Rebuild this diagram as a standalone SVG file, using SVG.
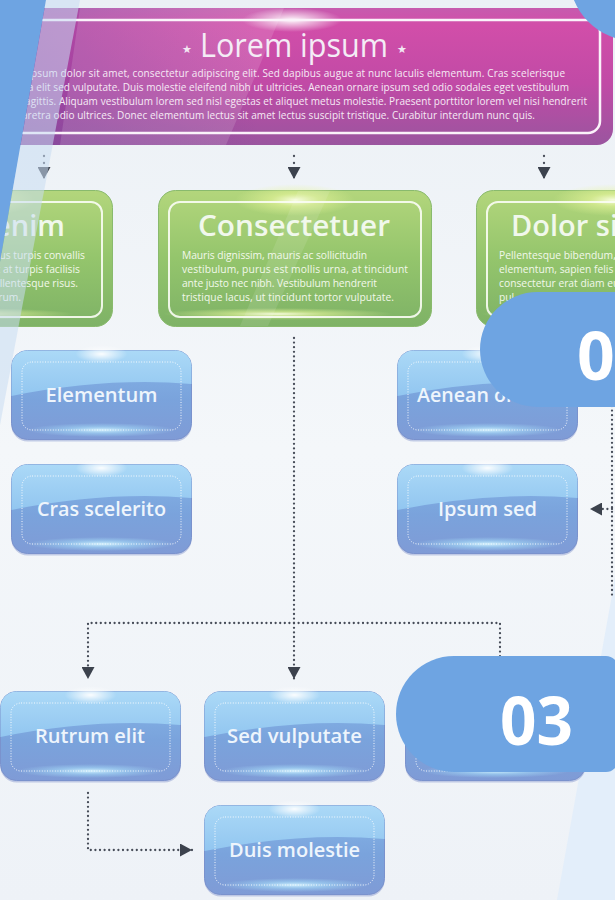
<svg xmlns="http://www.w3.org/2000/svg" width="615" height="900" viewBox="0 0 615 900">
<defs>
<style>
.t{font-family:"Open Sans","Noto Sans","DejaVu Sans",sans-serif}
.body{font-size:10px;fill:#f6eaf5}
.gbody{font-size:10.3px;fill:#f2f8ea}
.gtitle{font-size:29px;font-weight:600;fill:#f1f8ec}
.blabel{font-size:19.5px;font-weight:600;fill:#eef5fc;text-anchor:middle}
.dots{fill:none;stroke:#474d59;stroke-width:2.3;stroke-linecap:round;stroke-dasharray:0 4.6}
.short{stroke-dasharray:0 7}
.tab{fill:#6ea4e2}
.tabnum{font-size:66px;font-weight:700;fill:#ffffff}
</style>
<linearGradient id="bg" x1="0" y1="0" x2="0" y2="1">
<stop offset="0" stop-color="#ebf0f5"/>
<stop offset="0.5" stop-color="#f4f7fa"/>
<stop offset="1" stop-color="#eef2f7"/>
</linearGradient>
<linearGradient id="pink" x1="0" y1="0" x2="0" y2="1">
<stop offset="0" stop-color="#c65bae"/>
<stop offset="0.12" stop-color="#d24ea9"/>
<stop offset="0.55" stop-color="#c14aa6"/>
<stop offset="1" stop-color="#9a559f"/>
</linearGradient>
<linearGradient id="pinkSide" x1="0" y1="0" x2="1" y2="0">
<stop offset="0" stop-color="#70389a" stop-opacity="0.55"/>
<stop offset="0.45" stop-color="#70389a" stop-opacity="0"/>
</linearGradient>
<linearGradient id="green" x1="0" y1="0" x2="0" y2="1">
<stop offset="0" stop-color="#b3d67c"/>
<stop offset="0.5" stop-color="#94c56c"/>
<stop offset="1" stop-color="#7eb266"/>
</linearGradient>
<linearGradient id="blueLow" x1="0" y1="0" x2="0" y2="1">
<stop offset="0" stop-color="#86b6e8"/>
<stop offset="0.55" stop-color="#7aa3dc"/>
<stop offset="1" stop-color="#7f9bd6"/>
</linearGradient>
<linearGradient id="blueTop" x1="0" y1="0" x2="0" y2="1">
<stop offset="0" stop-color="#abd9f7"/>
<stop offset="1" stop-color="#92c6f0"/>
</linearGradient>
<radialGradient id="whiteGlow">
<stop offset="0" stop-color="#ffffff" stop-opacity="0.95"/>
<stop offset="1" stop-color="#ffffff" stop-opacity="0"/>
</radialGradient>
<radialGradient id="cyanGlow">
<stop offset="0" stop-color="#d6f4ff" stop-opacity="0.95"/>
<stop offset="0.5" stop-color="#a9e1fb" stop-opacity="0.5"/>
<stop offset="1" stop-color="#a9e1fb" stop-opacity="0"/>
</radialGradient>
<radialGradient id="yelGlow">
<stop offset="0" stop-color="#fbffe6" stop-opacity="0.95"/>
<stop offset="0.4" stop-color="#e6f59a" stop-opacity="0.6"/>
<stop offset="1" stop-color="#e6f59a" stop-opacity="0"/>
</radialGradient>
<marker id="ah" viewBox="0 0 12 13" refX="12" refY="6.5" markerWidth="12" markerHeight="13" markerUnits="userSpaceOnUse" orient="auto">
<path d="M0 0 L12 6.5 L0 13 Z" fill="#3c424d"/>
</marker>
<!-- rounded green card, 274 x 137 -->
<g id="gshape">
<rect x="0.5" y="0.5" width="273" height="136" rx="17" fill="url(#green)" stroke="#89ba6d"/>
<ellipse cx="137" cy="10" rx="60" ry="16" fill="url(#yelGlow)"/>
<ellipse cx="120" cy="124" rx="115" ry="6" fill="url(#yelGlow)"/>
<rect x="11" y="12" width="252" height="115" rx="11" fill="none" stroke="#fbfdf5" stroke-width="2" stroke-opacity="0.9"/>
</g>
<!-- glossy blue button, 181 x 90 -->
<g id="bshape">
<rect x="0.5" y="2.5" width="180" height="89" rx="16" fill="#8294cc" opacity="0.45"/>
<rect x="0.5" y="0.5" width="180" height="89" rx="16" fill="url(#blueLow)" stroke="#7a92cd"/>
<path d="M0.5 46 V16.5 A16 16 0 0 1 16.5 0.5 H164.5 A16 16 0 0 1 180.5 16.5 V34 Q95 27 0.5 46 Z" fill="url(#blueTop)"/>
<ellipse cx="90.5" cy="80" rx="74" ry="7" fill="url(#cyanGlow)"/>
<ellipse cx="90.5" cy="4" rx="26" ry="9" fill="url(#whiteGlow)"/>
<rect x="11" y="12" width="159" height="68" rx="10" fill="none" stroke="#ffffff" stroke-opacity="0.9" stroke-width="1" stroke-dasharray="1 1.6"/>
</g>
</defs>

<!-- backdrop -->
<rect width="615" height="900" fill="url(#bg)"/>
<polygon points="612,595 615,575 615,900 557,900" fill="#e3eefa"/>

<!-- header banner -->
<g id="header" class="t">
<rect x="-30" y="8" width="643" height="137" rx="16" fill="url(#pink)"/>
<rect x="-30" y="8" width="643" height="137" rx="16" fill="url(#pinkSide)"/>
<ellipse cx="292" cy="20" rx="50" ry="12" fill="url(#whiteGlow)"/>
<rect x="-20" y="20" width="620" height="113" rx="12" fill="none" stroke="#fbf2fa" stroke-width="2.5"/>
<polygon points="80,8 284,8 226,145 60,145" fill="#ffffff" opacity="0.13"/>
<text x="187" y="53" font-size="11" fill="#f3e8f4" text-anchor="middle">★</text>
<text x="200" y="57" font-size="32" font-weight="500" fill="#f4ecf6" textLength="188" lengthAdjust="spacingAndGlyphs">Lorem ipsum</text>
<text x="402" y="53" font-size="11" fill="#f3e8f4" text-anchor="middle">★</text>
<text class="body" x="31" y="77" textLength="534">psum dolor sit amet, consectetur adipiscing elit. Sed dapibus augue at nunc laculis elementum. Cras scelerisque</text>
<text class="body" x="28" y="91" textLength="541">a elit sed vulputate. Duis molestie eleifend nibh ut ultricies. Aenean ornare ipsum sed odio sodales eget vestibulum</text>
<text class="body" x="25" y="105" textLength="562">agittis. Aliquam vestibulum lorem sed nisl egestas et aliquet metus molestie. Praesent porttitor lorem vel nisi hendrerit</text>
<text class="body" x="22" y="119" textLength="513">aretra odio ultrices. Donec elementum lectus sit amet lectus suscipit tristique. Curabitur interdum nunc quis.</text>
</g>

<!-- connectors -->
<g id="connectors">
<path class="dots short" d="M44 156 V179" marker-end="url(#ah)"/>
<path class="dots short" d="M294 156 V179" marker-end="url(#ah)"/>
<path class="dots short" d="M544 156 V179" marker-end="url(#ah)"/>
<path class="dots" d="M294 338 V679" marker-end="url(#ah)"/>
<path class="dots" d="M294 623 H88 V679" marker-end="url(#ah)"/>
<path class="dots" d="M294 623 H500 V679" marker-end="url(#ah)"/>
<path class="dots" d="M88 793 V850 H192" marker-end="url(#ah)"/>
<path class="dots" d="M612 360 V598"/>
<path class="dots" d="M612 509 H590" marker-end="url(#ah)"/>
</g>

<!-- green cards -->
<g id="node-enim" class="t">
<use href="#gshape" x="-161" y="190"/>
<text class="gtitle" x="65" y="236" text-anchor="end">enim</text>
<text class="gbody" x="85" y="259" text-anchor="end">us turpis convallis</text>
<text class="gbody" x="80" y="273" text-anchor="end">t at turpis facilisis</text>
<text class="gbody" x="78" y="287" text-anchor="end">llentesque risus.</text>
<text class="gbody" x="21" y="301" text-anchor="end">rum.</text>
</g>
<g id="node-consectetuer" class="t">
<use href="#gshape" x="158" y="190"/>
<polygon points="298,191 330,191 268,326 240,326" fill="#ffffff" opacity="0.1"/>
<text class="gtitle" x="198" y="236" textLength="192" lengthAdjust="spacingAndGlyphs">Consectetuer</text>
<text class="gbody" x="182" y="259" textLength="185">Mauris dignissim, mauris ac sollicitudin</text>
<text class="gbody" x="182" y="273" textLength="226">vestibulum, purus est mollis urna, at tincidunt</text>
<text class="gbody" x="182" y="287" textLength="195">ante justo nec nibh. Vestibulum hendrerit</text>
<text class="gbody" x="182" y="301" textLength="212">tristique lacus, ut tincidunt tortor vulputate.</text>
</g>
<g id="node-dolor" class="t">
<use href="#gshape" x="476" y="190"/>
<text class="gtitle" x="511" y="236">Dolor si</text>
<text class="gbody" x="499" y="259">Pellentesque bibendum,</text>
<text class="gbody" x="499" y="273">elementum, sapien felis</text>
<text class="gbody" x="499" y="287">consectetur erat diam eu</text>
<text class="gbody" x="499" y="301">pul</text>
</g>

<!-- blue buttons -->
<g id="node-elementum" class="t">
<use href="#bshape" x="11" y="350"/>
<text class="blabel" x="101.5" y="402" textLength="112" lengthAdjust="spacingAndGlyphs">Elementum</text>
</g>
<g id="node-cras" class="t">
<use href="#bshape" x="11" y="464"/>
<text class="blabel" x="101.5" y="516" textLength="129" lengthAdjust="spacingAndGlyphs">Cras scelerito</text>
</g>
<g id="node-aenean" class="t">
<use href="#bshape" x="397" y="350"/>
<text class="blabel" x="487.5" y="402" textLength="141" lengthAdjust="spacingAndGlyphs">Aenean ornare</text>
</g>
<g id="node-ipsum" class="t">
<use href="#bshape" x="397" y="464"/>
<text class="blabel" x="487.5" y="516" textLength="99" lengthAdjust="spacingAndGlyphs">Ipsum sed</text>
</g>
<g id="node-rutrum" class="t">
<use href="#bshape" x="0" y="691"/>
<text class="blabel" x="90" y="743" textLength="110" lengthAdjust="spacingAndGlyphs">Rutrum elit</text>
</g>
<g id="node-sed" class="t">
<use href="#bshape" x="204" y="691"/>
<text class="blabel" x="294.5" y="743" textLength="135" lengthAdjust="spacingAndGlyphs">Sed vulputate</text>
</g>
<g id="node-third" class="t">
<use href="#bshape" x="405" y="691"/>
</g>
<g id="node-duis" class="t">
<use href="#bshape" x="204" y="805"/>
<text class="blabel" x="294.5" y="857" textLength="131" lengthAdjust="spacingAndGlyphs">Duis molestie</text>
</g>

<!-- left edge ribbon and haze -->
<polygon points="46,0 80,0 0,425 0,262" fill="#c9dcf3" opacity="0.55"/>
<polygon points="0,0 46,0 0,262" class="tab"/>

<!-- number tabs -->
<g id="tab-02" class="t">
<path class="tab" d="M537.5 292 H640 V407 H537.5 A57.5 57.5 0 0 1 537.5 292 Z"/>
<text class="tabnum" x="577" y="380">0</text>
</g>
<g id="tab-03" class="t">
<path class="tab" d="M454 656 H606 A12 12 0 0 1 618 668 V760 A12 12 0 0 1 606 772 H454 A58 58 0 0 1 454 656 Z"/>
<text class="tabnum" x="500" y="745" textLength="73" lengthAdjust="spacingAndGlyphs">03</text>
</g>
<circle class="tab" cx="635" cy="-25" r="66"/>
</svg>
